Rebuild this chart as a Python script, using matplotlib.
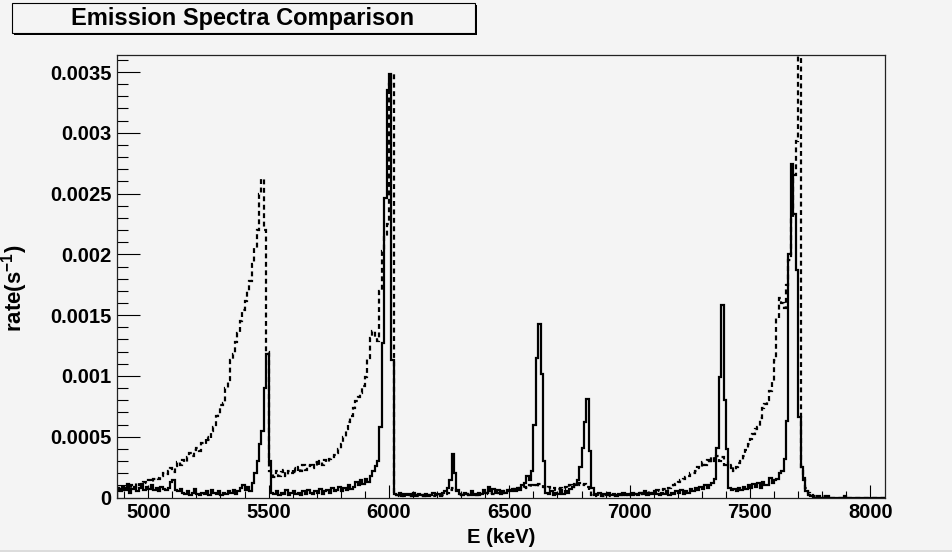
import numpy as np
import matplotlib
matplotlib.use("Agg")
from matplotlib import pyplot as plt
from matplotlib.ticker import MultipleLocator, FormatStrFormatter
from matplotlib.patches import Rectangle

# histogram binning (keV), 10 keV bins
e_low = 4870
e_high = 8070
bin_width = 10

# rates in units of 1e-5 s^-1, one row per 100 keV
rate_solid = [
    8, 5, 9, 6, 10, 4, 7, 9, 5, 8,
    11, 6, 9, 7, 10, 6, 8, 5, 9, 7,
    6, 8, 13, 14, 6, 5, 7, 4, 3, 5,
    2, 4, 7, 3, 2, 4, 3, 5, 2, 6,
    4, 3, 5, 2, 4, 3, 5, 4, 6, 3,
    5, 8, 10, 6, 9, 5, 12, 20, 30, 44,
    55, 90, 118, 30, 4, 3, 5, 2, 4, 3,
    6, 2, 4, 5, 3, 4, 2, 5, 3, 6,
    4, 3, 5, 4, 7, 3, 5, 6, 4, 8,
    5, 6, 9, 5, 8, 6, 10, 7, 9, 13,
    10, 14, 11, 15, 13, 18, 22, 26, 30, 58,
    127, 246, 335, 348, 113, 3, 2, 4, 1, 3,
    2, 3, 1, 4, 2, 3, 2, 1, 3, 2,
    2, 4, 2, 3, 2, 4, 5, 8, 14, 36,
    20, 6, 3, 2, 4, 3, 2, 5, 3, 2,
    4, 3, 6, 4, 9, 5, 7, 4, 6, 3,
    5, 4, 6, 5, 7, 5, 8, 6, 10, 12,
    18, 14, 22, 60, 115, 143, 102, 30, 4, 3,
    5, 2, 4, 3, 6, 3, 5, 4, 7, 9,
    10, 14, 25, 41, 62, 81, 38, 8, 2, 3,
    4, 1, 3, 2, 4, 2, 3, 1, 3, 2,
    4, 2, 3, 2, 4, 3, 2, 4, 3, 5,
    2, 4, 3, 5, 3, 2, 4, 3, 5, 2,
    4, 3, 5, 4, 6, 3, 5, 4, 7, 5,
    8, 6, 9, 7, 10, 8, 10, 12, 15, 41,
    99, 158, 80, 40, 8, 6, 7, 5, 8, 6,
    9, 7, 10, 8, 11, 9, 12, 8, 13, 10,
    10, 16, 12, 14, 15, 20, 22, 32, 63, 200,
    274, 233, 187, 66, 25, 14, 5, 2, 1, 0,
    0, 1, 0, 0, 0, 1, 0, 0, 0, 0,
    0, 0, 1, 0, 0, 0, 0, 0, 0, 0,
    0, 0, 0, 0, 0, 0, 0, 0, 0, 0,
]

rate_dashed = [
    10, 7, 9, 8, 11, 8, 10, 9, 12, 10,
    11, 13, 12, 14, 13, 15, 16, 15, 18, 20,
    19, 22, 24, 21, 26, 29, 27, 31, 29, 33,
    37, 34, 39, 41, 38, 45, 44, 50, 47, 55,
    58, 67, 69, 76, 78, 90, 97, 113, 118, 128,
    135, 145, 154, 162, 170, 178, 192, 205, 220, 250,
    262, 220, 120, 22, 20, 17, 22, 18, 21, 23,
    18, 22, 20, 24, 21, 25, 22, 27, 23, 26,
    27, 24, 29, 26, 30, 27, 31, 29, 32, 33,
    35, 37, 40, 44, 50, 56, 62, 67, 74, 79,
    83, 86, 92, 99, 115, 131, 137, 132, 129, 170,
    203, 215, 225, 340, 348, 2, 2, 1, 2, 1,
    1, 2, 1, 2, 1, 1, 2, 1, 2, 1,
    2, 1, 2, 2, 1, 2, 3, 4, 6, 8,
    7, 5, 3, 2, 2, 3, 2, 3, 2, 3,
    2, 3, 3, 4, 3, 4, 3, 4, 4, 5,
    4, 5, 5, 6, 5, 7, 6, 8, 7, 9,
    8, 10, 9, 10, 9, 11, 10, 9, 8, 9,
    7, 8, 6, 7, 8, 7, 9, 8, 10, 9,
    11, 10, 12, 10, 11, 9, 5, 2, 1, 2,
    1, 2, 1, 2, 2, 1, 2, 2, 1, 2,
    2, 3, 2, 3, 2, 3, 3, 4, 3, 4,
    4, 5, 4, 5, 6, 5, 6, 7, 6, 8,
    9, 10, 11, 13, 14, 15, 17, 18, 20, 20,
    22, 25, 24, 29, 27, 31, 28, 33, 30, 34,
    30, 33, 27, 29, 24, 27, 22, 25, 28, 30,
    34, 39, 44, 48, 52, 56, 58, 65, 74, 77,
    80, 88, 96, 113, 148, 164, 160, 156, 175, 195,
    230, 265, 293, 420, 25, 16, 8, 4, 2, 1,
    1, 0, 0, 1, 0, 0, 0, 0, 0, 0,
    0, 0, 0, 0, 0, 0, 0, 0, 0, 0,
    0, 0, 0, 0, 0, 0, 0, 0, 0, 0,
]

title = "Emission Spectra Comparison"
x_title = "E (keV)"
y_title = r"rate(s$^{-1}$)"

bg = "#f4f4f4"
plt.rcParams["font.family"] = ["Liberation Sans", "DejaVu Sans"]
plt.rcParams["font.weight"] = "bold"
plt.rcParams["mathtext.fontset"] = "custom"
plt.rcParams["mathtext.rm"] = "Liberation Sans:bold"
plt.rcParams["mathtext.bf"] = "Liberation Sans:bold"

edges = np.arange(e_low, e_high + bin_width, bin_width)
solid = np.array(rate_solid) * 1e-5
dashed = np.array(rate_dashed) * 1e-5

W, H = 952, 552
fig = plt.figure(figsize=(W / 100, H / 100), dpi=100, facecolor=bg)
ax = fig.add_axes([117 / W, 1 - 497.5 / H, 768 / W, 442.5 / H], facecolor=bg)

ax.stairs(solid, edges, color="black", lw=1.6)
ax.stairs(dashed, edges, color="black", lw=1.6, linestyle=(0, (2.2, 1.6)))

ax.set_xlim(4870, 8061)
ax.set_ylim(0, 0.00364)

ax.xaxis.set_major_locator(MultipleLocator(500))
ax.xaxis.set_minor_locator(MultipleLocator(100))
ax.yaxis.set_major_locator(MultipleLocator(0.0005))
ax.yaxis.set_minor_locator(MultipleLocator(0.0001))
ax.yaxis.set_major_formatter(FormatStrFormatter("%g"))

ax.tick_params(axis="both", which="both", direction="in", width=0.8, colors="black",
               labelsize=14.5, top=False, right=False)
ax.tick_params(axis="y", which="major", length=16.5, pad=4)
ax.tick_params(axis="y", which="minor", length=8)
ax.tick_params(axis="x", which="major", length=9.5, pad=4)
ax.tick_params(axis="x", which="minor", length=4.7)
for lab in ax.get_xticklabels() + ax.get_yticklabels():
    lab.set_fontweight("bold")

for sp in ax.spines.values():
    sp.set_linewidth(0.9)
    sp.set_color("#222222")

ax.set_xlabel(x_title, fontsize=14.5, fontweight="bold")
ax.xaxis.set_label_coords(0.5, (497.5 - 528) / 442.5)
ax.set_ylabel(y_title, fontsize=16, fontweight="bold")
ax.yaxis.set_label_coords((30 - 117) / 768, (497.5 - 288) / 442.5)

# title box with shadow, in pixel terms
fig.patches.append(Rectangle((14 / W, 1 - 35 / H), 463 / W, 30 / H, transform=fig.transFigure,
                             facecolor="black", edgecolor="none"))
fig.patches.append(Rectangle((12 / W, 1 - 33 / H), 463 / W, 30 / H, transform=fig.transFigure,
                             facecolor=bg, edgecolor="black", lw=0.8))
fig.text(243 / W, 1 - 18.5 / H, title, ha="center", va="center", fontsize=17, fontweight="bold")

# canvas border along the bottom
fig.patches.append(Rectangle((0, 0), 1, 2 / H, transform=fig.transFigure,
                             facecolor="#dcdcdc", edgecolor="none"))

fig.savefig("out.png", dpi=100, facecolor=bg)
